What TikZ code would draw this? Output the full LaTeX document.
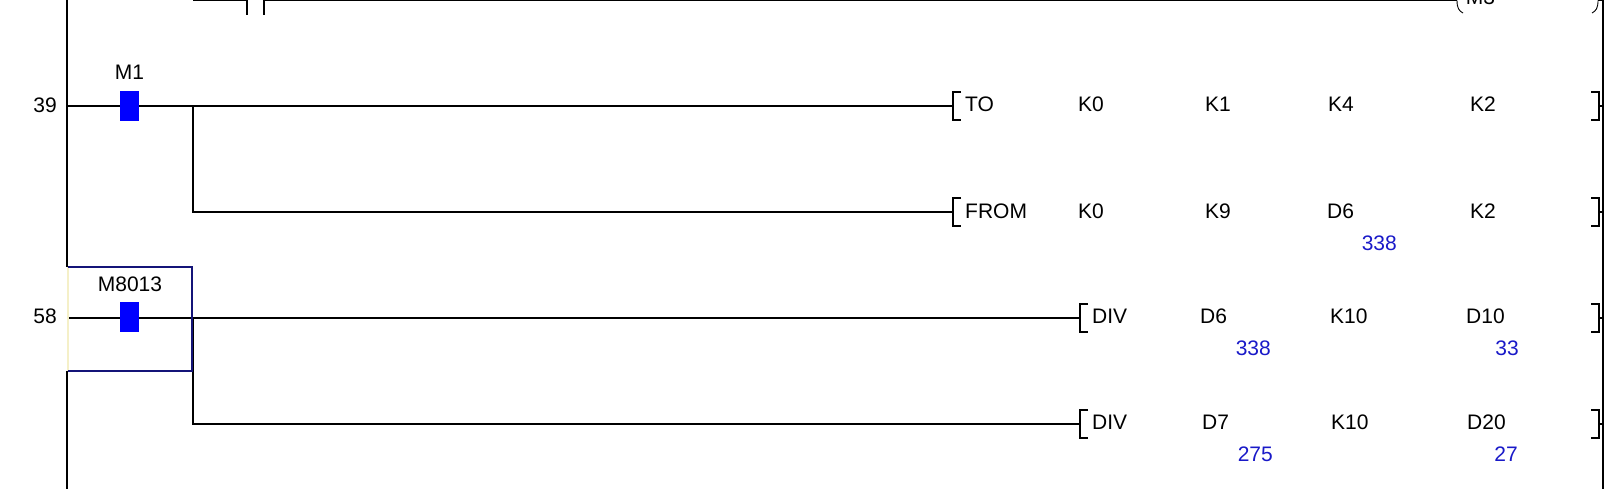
\documentclass[tikz,border=0pt]{standalone}
\usepackage{fontspec}
\setmainfont{Liberation Sans}
\definecolor{valblue}{RGB}{25,25,200}
\definecolor{boxnavy}{RGB}{20,20,120}
\definecolor{paleyel}{RGB}{245,240,200}
\tikzset{
  wire/.style={line width=1.1pt, black},
  txt/.style={font=\fontsize{21}{25}\selectfont, inner sep=0pt, anchor=base west},
  val/.style={txt, anchor=base east, text=valblue},
  blk/.style={fill=blue, draw=none, minimum width=19pt, minimum height=30pt, inner sep=0pt},
  lbr/.pic={\draw[wire] (8,-14) -- (0,-14) -- (0,14) -- (8,14);},
  rbr/.pic={\draw[wire] (-8,-14) -- (0,-14) -- (0,14) -- (-8,14); \draw[wire] (0,0) -- (4,0);}
}
\begin{document}
\begin{tikzpicture}[x=1pt,y=-1pt]
\useasboundingbox (0,0) rectangle (1613,488);
\clip (0,0) rectangle (1613,488);
% rails
\coordinate (lrtop) at (67,-2);
\coordinate (lrbox1) at (67,267);
\coordinate (lrbox2) at (67,371);
\coordinate (lrbot) at (67,490);
\coordinate (rrtop) at (1603,-2);
\coordinate (rrbot) at (1603,490);
\draw[wire] (lrtop) -- (lrbox1);
\draw[wire] (lrbox2) -- (lrbot);
\draw[wire] (rrtop) -- (rrbot);
% top rung (partly visible)
\coordinate (t0) at (193,0.5);
\coordinate (c1) at (247,0.5);
\coordinate (c1b) at (247,14.5);
\coordinate (c2b) at (264,14.5);
\coordinate (c2) at (264,0.5);
\coordinate (co1) at (1457,0.5);
\coordinate (co2) at (1598,0.5);
\draw[wire] (t0) -- (c1) -- (c1b);
\draw[wire] (c2b) -- (c2) -- (co1);
\draw[line width=0.9pt] (co1) .. controls (1457,8) and (1459,11) .. (1463,13);
\draw[line width=0.9pt] (co2) .. controls (1598,8) and (1596,11) .. (1592,13);
\draw[wire] (co2) -- (1603,0.5);
\node[txt, anchor=base] (m3) at (1480.5,4.5) {M3};
% rung 39
\node[txt, anchor=base east] (n39) at (57,112) {39};
\coordinate (r1a) at (67,106);
\coordinate (r1j) at (193,106);
\coordinate (r1b) at (953,106);
\coordinate (r2j) at (193,212);
\coordinate (r2b) at (953,212);
\draw[wire] (r1a) -- (r1b);
\draw[wire] (r1j) -- (r2j) -- (r2b);
\node[blk] (m1) at (129.5,105.5) {};
\node[txt, anchor=base] (m1l) at (129.5,79) {M1};
\pic at (r1b) {lbr};
\pic at (r2b) {lbr};
\pic at (1599,106) {rbr};
\pic at (1599,212) {rbr};
\node[txt] (to) at (965,111) {TO};
\node[txt] (a1) at (1078,111) {K0};
\node[txt] (a2) at (1205,111) {K1};
\node[txt] (a3) at (1328,111) {K4};
\node[txt] (a4) at (1470,111) {K2};
\node[txt] (from) at (965,218) {FROM};
\node[txt] (b1) at (1078,218) {K0};
\node[txt] (b2) at (1205,218) {K9};
\node[txt] (b3) at (1327,218) {D6};
\node[txt] (b4) at (1470,218) {K2};
\node[val] (bv3) at (1397,250) {338};
% rung 58
\node[txt, anchor=base east] (n58) at (57,323) {58};
\coordinate (r3a) at (68,318);
\coordinate (r3j) at (193,318);
\coordinate (r3b) at (1080,318);
\coordinate (r4j) at (193,424);
\coordinate (r4b) at (1080,424);
\draw[wire] (r3a) -- (r3b);
\draw[wire] (r3j) -- (r4j) -- (r4b);
\coordinate (bx1) at (68,267);
\coordinate (bx2) at (192,267);
\coordinate (bx3) at (192,371);
\coordinate (bx4) at (68,371);
\draw[paleyel, line width=1.2pt] (bx1) -- (bx4);
\draw[boxnavy, line width=1.6pt] (bx1) -- (bx2) -- (bx3) -- (bx4);
\node[blk] (m8013) at (129.5,317) {};
\node[txt, anchor=base] (m8013l) at (130,291) {M8013};
\pic at (r3b) {lbr};
\pic at (r4b) {lbr};
\pic at (1599,318) {rbr};
\pic at (1599,424) {rbr};
\node[txt] (div1) at (1092,323) {DIV};
\node[txt] (c1t) at (1200,323) {D6};
\node[txt] (c2t) at (1330,323) {K10};
\node[txt] (c3t) at (1466,323) {D10};
\node[val] (cv1) at (1271,355) {338};
\node[val] (cv3) at (1519,355) {33};
\node[txt] (div2) at (1092,429) {DIV};
\node[txt] (d1t) at (1202,429) {D7};
\node[txt] (d2t) at (1331,429) {K10};
\node[txt] (d3t) at (1467,429) {D20};
\node[val] (dv1) at (1273,461) {275};
\node[val] (dv3) at (1518,461) {27};
\end{tikzpicture}
\end{document}
